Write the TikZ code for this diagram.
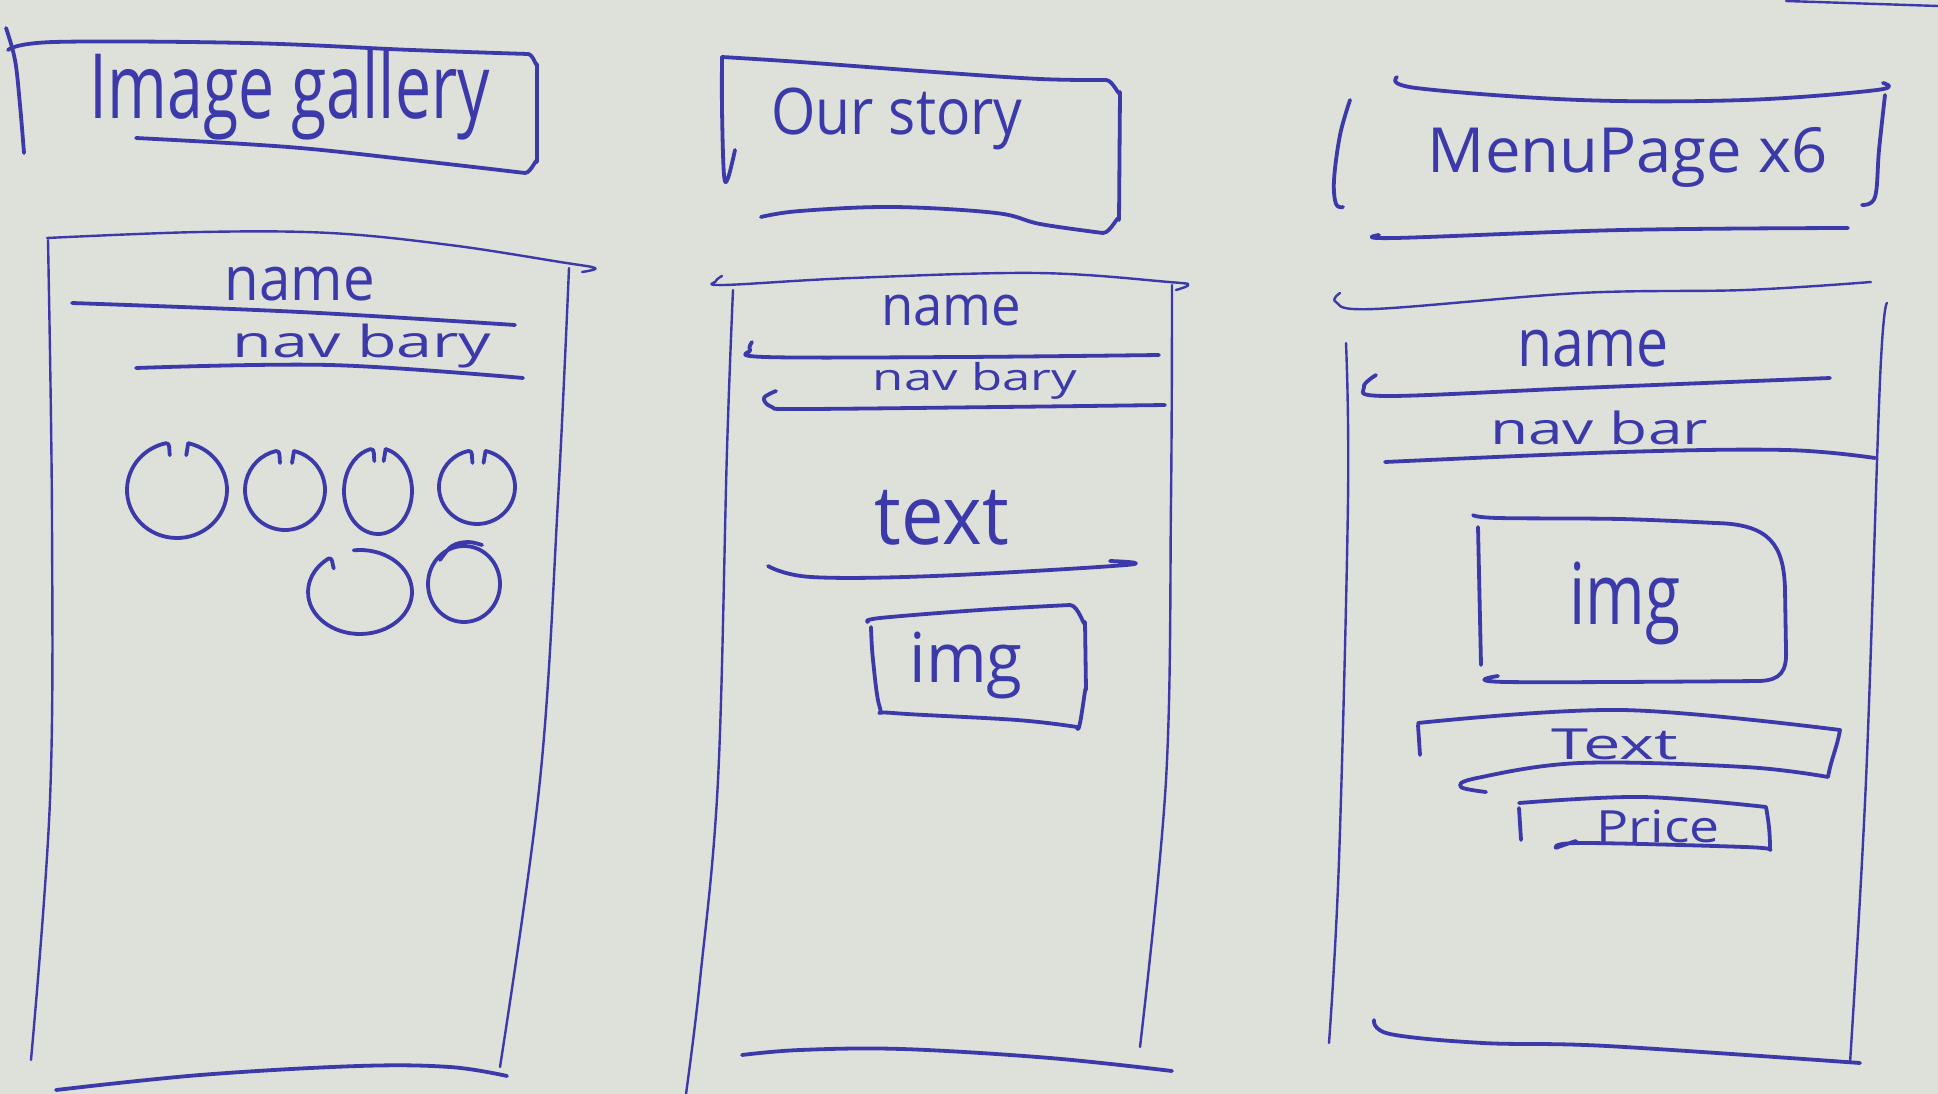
\documentclass[tikz,border=0pt]{standalone}
\usepackage{fontspec}
\usepackage{graphicx}
\setmainfont{Open Sans}
\definecolor{ink}{RGB}{60,58,170}
\definecolor{paper}{RGB}{222,224,218}
% hand lettering: text squeezed into a given width and total height
\newcommand\hand[3]{\resizebox*{#1pt}{#2pt}{#3}}
\begin{document}
\begin{tikzpicture}[x=1pt,y=-1pt,
  pen/.style={draw=ink,line width=3.8pt,line cap=round,line join=round},
  fine/.style={pen,line width=2.4pt},
  word/.style={inner sep=0pt,text=ink},
  sm/.style={smooth,tension=0.6},
  thumb/.style={pen}]
\useasboundingbox (0,0) rectangle (1938,1094);
\fill[paper] (0,0) rectangle (1938,1094);

% ---------------- Image gallery page ----------------
\draw[pen] plot[sm] coordinates {(6,28) (15,60) (20,105) (24,153)};
\draw[pen] plot[sm] coordinates {(8,50) (54,42) (247,43) (412,50) (528,54)}
  to[out=0,in=-90] (537,64) -- (537,162) to[out=90,in=0] (525,173)
  plot[sm] coordinates {(525,173) (412,160) (288,147) (136,138)};
\node[word] (tGallery) at (290,95) {\hand{400}{90}{Image gallery}};

\draw[fine] plot[sm] coordinates {(47,238) (200,232) (330,233) (450,245) (560,262) (595,268) (582,272)};
\draw[fine] plot[sm] coordinates {(48,240) (52,520) (50,800) (31,1060)};
\draw[fine] plot[sm] coordinates {(569,268) (558,500) (540,780) (500,1067)};
\draw[pen] plot[sm] coordinates {(56,1090) (200,1075) (358,1066) (450,1067) (507,1076)};

\node[word] (gName) at (300,284) {\hand{150}{34}{name}};
\draw[pen] plot[sm] coordinates {(72,303) (300,312) (515,325)};
\node[word] (gNav) at (362,346) {\hand{259}{44}{nav bary}};
\draw[pen] plot[sm] coordinates {(136,368) (330,365) (523,378)};

% gallery thumbnails: one stroke each, its two ends curling in at the top
\draw[thumb,shift={(177,490)}] (283:50 and 48) arc[start angle=283,end angle=617,x radius=50,y radius=48]
  to[out=10,in=100] ++(4,12);
\draw[thumb,shift={(177,490)}] (283:50 and 48) -- ++(-2,12);
\draw[thumb,shift={(285,490)}] (283:40 and 40) arc[start angle=283,end angle=617,x radius=40,y radius=40]
  to[out=10,in=100] ++(4,12);
\draw[thumb,shift={(285,490)}] (283:40 and 40) -- ++(-2,12);
\draw[thumb,shift={(378,491)}] (283:34 and 43) arc[start angle=283,end angle=617,x radius=34,y radius=43]
  to[out=10,in=100] ++(4,12);
\draw[thumb,shift={(378,491)}] (283:34 and 43) -- ++(-2,12);
\draw[thumb,shift={(477,487)}] (283:38 and 37) arc[start angle=283,end angle=617,x radius=38,y radius=37]
  to[out=10,in=100] ++(4,12);
\draw[thumb,shift={(477,487)}] (283:38 and 37) -- ++(-2,12);
\draw[thumb,shift={(360,592)}] (263:52 and 42) arc[start angle=263,end angle=593,x radius=52,y radius=42]
  to[out=20,in=110] ++(5,10);
\draw[thumb,shift={(464,584)}] (0:36 and 38) arc[start angle=0,end angle=360,x radius=36,y radius=38];
\draw[pen] plot[sm] coordinates {(440,560) (452,546) (468,542) (482,545)};

% ---------------- Our story page ----------------
\draw[pen] plot[sm] coordinates {(735,150) (728,178) (724,175) (722,110) (722,57)};
\draw[pen] plot[sm] coordinates {(722,57) (800,62) (934,72) (1040,79) (1106,80)}
  to[out=0,in=-90] (1120,92) -- (1119,220) to[out=90,in=0] (1103,233)
  plot[sm] coordinates {(1103,233) (1040,224) (996,213) (893,207) (800,211) (761,217)};
\node[word] (tStory) at (897,119) {\hand{251}{62}{Our story}};

\draw[fine] plot[sm] coordinates {(722,276) (716,281) (724,285) (852,278) (1037,273) (1169,282) (1188,285) (1176,290)};
\draw[fine] plot[sm] coordinates {(733,290) (727,450) (718,780) (700,980) (686,1094)};
\draw[fine] plot[sm] coordinates {(1172,285) (1171,500) (1166,780) (1140,1047)};
\draw[pen] plot[sm] coordinates {(742,1055) (800,1050) (902,1049) (1050,1058) (1172,1071)};

\node[word] (sName) at (951,311) {\hand{140}{31}{name}};
\draw[pen] plot[sm] coordinates {(752,342) (750,350) (765,357) (960,357) (1159,355)};
\node[word] (sNav) at (975,381) {\hand{204}{37}{nav bary}};
\draw[pen] plot[sm] coordinates {(776,391) (764,398) (772,407) (800,409) (1000,407) (1165,405)};
\node[word] (sText) at (942,518) {\hand{134}{55}{text}};
\draw[pen] plot[sm] coordinates {(768,566) (811,577) (934,576) (1126,565) (1110,561)};

\draw[pen] plot[sm] coordinates {(868,622) (880,618) (980,610) (1070,605)}
  to[out=0,in=-90] (1085,622) -- (1086,690) to[out=90,in=-80] (1077,727)
  plot[sm] coordinates {(1077,727) (1017,720) (893,713) (880,708) (873,660) (871,627)};
\node[word] (sImg) at (966,666) {\hand{113}{67}{img}};

% ---------------- Menu page ----------------
\draw[pen] plot[sm] coordinates {(1350,100) (1340,135) (1334,180) (1336,204) (1343,207)};
\draw[pen] plot[sm] coordinates {(1397,77) (1416,88) (1580,100) (1745,100) (1877,90) (1883,83)};
\draw[pen] plot[sm] coordinates {(1885,95) (1879,150) (1875,197) (1862,205)};
\draw[pen] plot[sm] coordinates {(1379,235) (1395,238) (1622,230) (1848,228)};
\node[word] (tMenu) at (1628,157) {\hand{400}{60}{MenuPage x6}};

\draw[fine] plot[sm] coordinates {(1340,293) (1336,302) (1374,309) (1580,293) (1745,290) (1871,282)};
\draw[fine] plot[sm] coordinates {(1346,343) (1348,500) (1339,860) (1329,1043)};
\draw[fine] plot[sm] coordinates {(1887,303) (1880,380) (1866,780) (1850,1063)};
\draw[pen] plot[sm] coordinates {(1374,1020) (1390,1034) (1483,1043) (1607,1046) (1860,1063)};

\node[word] (mName) at (1593,349) {\hand{152}{37}{name}};
\draw[pen] plot[sm] coordinates {(1376,375) (1364,387) (1387,396) (1580,388) (1830,378)};
\node[word] (mNav) at (1599,428) {\hand{218}{34}{nav bar}};
\draw[pen] plot[sm] coordinates {(1385,462) (1622,452) (1786,450) (1875,458)};

\draw[pen] (1478,527) -- (1481,665);
\draw[pen] plot[sm] coordinates {(1473,515) (1498,518) (1620,519) (1715,523)}
  .. controls (1770,524) and (1784,545) .. (1785,590) -- (1786,650)
  .. controls (1787,672) and (1780,680) .. (1760,681)
  plot[sm] coordinates {(1760,681) (1506,682) (1498,676)};
\node[word] (mImg) at (1625,603) {\hand{111}{83}{img}};

\draw[pen] (1418,725) -- (1420,755);
\draw[pen] plot[sm] coordinates {(1418,723) (1622,710) (1840,730)}
  to[out=-100,in=80] (1828,777)
  plot[sm] coordinates {(1828,777) (1745,767) (1580,763) (1477,778) (1461,787) (1486,792)};
\node[word] (mText) at (1615,744) {\hand{127}{31}{Text}};

\draw[pen] (1519,808) -- (1521,840);
\draw[pen] plot[sm] coordinates {(1519,803) (1642,797) (1766,807)}
  to[out=-80,in=90] (1770,850)
  plot[sm] coordinates {(1770,850) (1745,847) (1580,843) (1556,848) (1576,841)};
\node[word] (mPrice) at (1658,826) {\hand{123}{33}{Price}};

% stroke running off the sheet at the top edge
\draw[fine] (1786,1) -- (1938,6);
\end{tikzpicture}
\end{document}
